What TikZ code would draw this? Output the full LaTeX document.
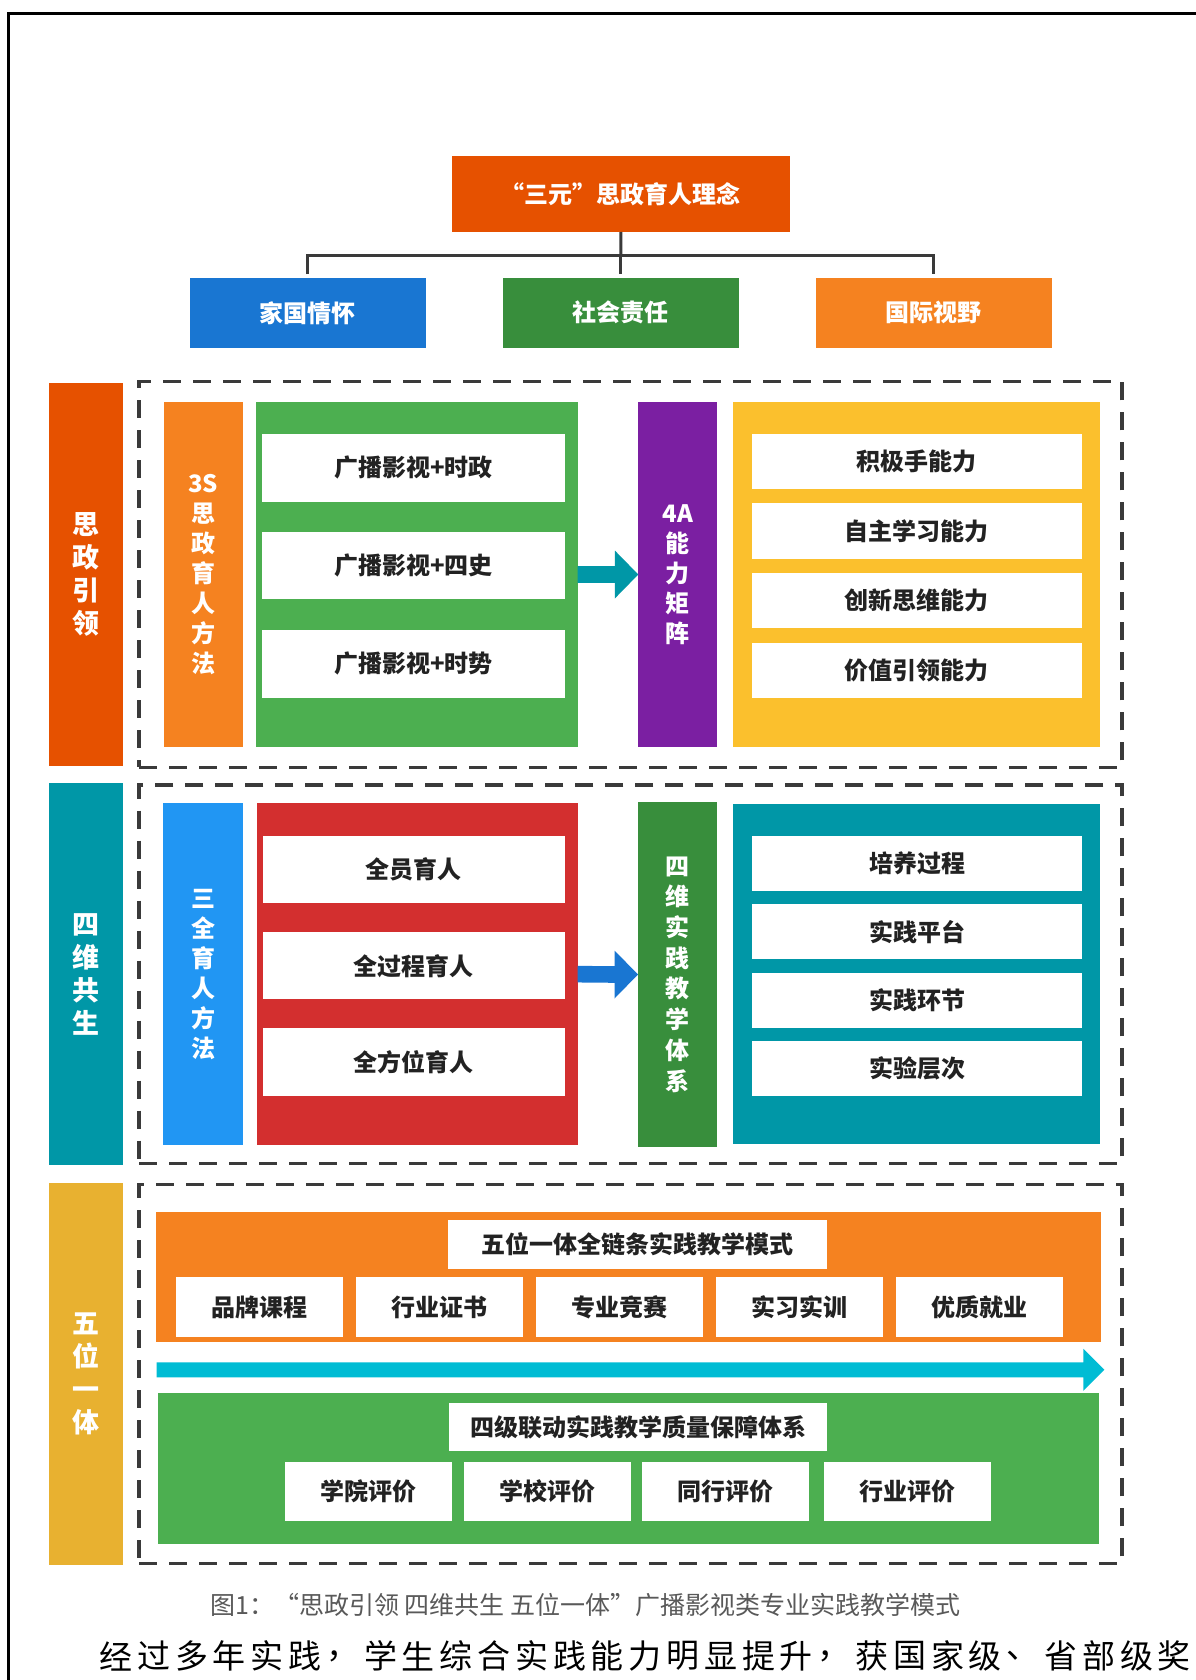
\documentclass[tikz,border=0pt]{standalone}
\usepackage{fontspec}
\setmainfont{Noto Sans CJK SC}
\usetikzlibrary{fit,calc}
\definecolor{cTop}{HTML}{E65100}
\definecolor{cBlue}{HTML}{1976D2}
\definecolor{cDGreen}{HTML}{388E3C}
\definecolor{cOrange}{HTML}{F58220}
\definecolor{cGreen}{HTML}{4CAF50}
\definecolor{cTeal}{HTML}{0097A7}
\definecolor{cPurple}{HTML}{7B1FA2}
\definecolor{cYellow}{HTML}{FBC02D}
\definecolor{cLBlue}{HTML}{2196F3}
\definecolor{cRed}{HTML}{D32F2F}
\definecolor{cGold}{HTML}{E8B130}
\definecolor{cCyan}{HTML}{00BCD4}
\definecolor{cLine}{HTML}{3A3A3A}
\definecolor{cTxt}{HTML}{222222}
\begin{document}
\begin{tikzpicture}[x=0.5pt,y=-0.5pt,
  fbox/.style={inner sep=0pt, outer sep=0pt, draw=none},
  wtxt/.style={text=white, font=\bfseries\fontsize{12}{15}\selectfont, align=center, inner sep=0pt},
  btxt/.style={text=cTxt, font=\bfseries\fontsize{12}{15}\selectfont, inner sep=0pt},
  stxt/.style={text=white, font=\bfseries\fontsize{13.5}{16.5}\selectfont, align=center, inner sep=0pt},
  wlab/.style={label={[wtxt]center:#1}},
  blab/.style={fill=white, label={[btxt]center:#1}},
  side/.style={label={[stxt]center:#1}},
  dashbox/.style={draw=cLine, line width=1.75pt, dash pattern=on 9pt off 6pt, inner sep=0pt, outer sep=0pt},
  conn/.style={draw=cLine, line width=1.5pt},
]
\useasboundingbox (0,0) rectangle (1195,1680);
\fill[white] (0,0) rectangle (1195,1680);
% outer frame
\draw[line width=1.5pt, black] (8,1690) -- (8,14) -- (1200,14);

% top
\node[fbox, fill=cTop, wlab={“三元”思政育人理念}, fit={(451.5,156) (790,232)}] (san) {};
\node[fbox, fill=cBlue, wlab={家国情怀}, fit={(190,278) (425.7,347.7)}] (jg) {};
\node[fbox, fill=cDGreen, wlab={社会责任}, fit={(503,278) (738.6,347.7)}] (sh) {};
\node[fbox, fill=cOrange, wlab={国际视野}, fit={(816,278) (1051.7,347.7)}] (gj) {};
\coordinate (hub) at (620.8,256);
\draw[conn] (san.south) -- (hub);
\draw[conn] (jg.north) ++(0,-4) |- (hub) -| ($(gj.north)+(0,-4)$);
\draw[conn] (hub) -- ($(sh.north)+(0,-4)$);

% dashed frames
\node[dashbox, fit={(139,381.7) (1122,767.3)}] (f1) {};
\node[dashbox, fit={(139,785) (1122,1163.3)}] (f2) {};
\node[dashbox, fit={(139,1184.7) (1122,1563.3)}] (f3) {};

% side bars
\node[fbox, fill=cTop, side={思\\政\\引\\领}, fit={(49.3,383.3) (122.7,765.7)}] (b1) {};
\node[fbox, fill=cTeal, side={四\\维\\共\\生}, fit={(49.3,783.3) (122.7,1165)}] (b2) {};
\node[fbox, fill=cGold, side={五\\位\\一\\体}, fit={(49.3,1182.7) (122.7,1565)}] (b3) {};

% row 1
\node[fbox, fill=cOrange, wlab={3S\\思\\政\\育\\人\\方\\法}, fit={(164,401.7) (242.7,747.3)}] (s3) {};
\node[fbox, fill=cGreen, fit={(255.7,401.7) (577.7,747.3)}] (g1) {};
\node[fbox, blab={广播影视+时政}, fit={(262.3,434) (565,501.7)}] (w11) {};
\node[fbox, blab={广播影视+四史}, fit={(262.3,532.3) (565,599.3)}] (w12) {};
\node[fbox, blab={广播影视+时势}, fit={(262.3,630) (565,697.7)}] (w13) {};
\node[fbox, fill=cPurple, wlab={4A\\能\\力\\矩\\阵}, fit={(638.3,401.7) (717.3,747.3)}] (pur) {};
\node[fbox, fill=cYellow, fit={(732.7,401.7) (1100,747.3)}] (yel) {};
\node[fbox, blab={积极手能力}, fit={(751.7,434) (1082,489.3)}] (y1) {};
\node[fbox, blab={自主学习能力}, fit={(751.7,503.3) (1082,559)}] (y2) {};
\node[fbox, blab={创新思维能力}, fit={(751.7,573.3) (1082,628.3)}] (y3) {};
\node[fbox, blab={价值引领能力}, fit={(751.7,642.7) (1082,697.7)}] (y4) {};
\fill[cTeal] ($(g1.east)+(0,-8.3)$) -- ($(pur.west)+(-23.5,-8.3)$) -- ($(pur.west)+(-23.5,-24)$) -- (pur.west)
  -- ($(pur.west)+(-23.5,24)$) -- ($(pur.west)+(-23.5,8.3)$) -- ($(g1.east)+(0,8.3)$) -- cycle;

% row 2
\node[fbox, fill=cLBlue, wlab={三\\全\\育\\人\\方\\法}, fit={(163.3,803.3) (243.3,1145)}] (sq) {};
\node[fbox, fill=cRed, fit={(256.7,803.3) (577.7,1145)}] (rd) {};
\node[fbox, blab={全员育人}, fit={(262.7,835.7) (565,903.3)}] (r1) {};
\node[fbox, blab={全过程育人}, fit={(262.7,932.3) (565,999.3)}] (r2) {};
\node[fbox, blab={全方位育人}, fit={(262.7,1028.3) (565,1096)}] (r3) {};
\node[fbox, fill=cDGreen, label={[wtxt, font=\bfseries\fontsize{12}{15.35}\selectfont]center:四\\维\\实\\践\\教\\学\\体\\系}, fit={(638,801.7) (717.3,1147.3)}] (sw) {};
\node[fbox, fill=cTeal, fit={(733.3,804) (1100,1144.3)}] (tl) {};
\node[fbox, blab={培养过程}, fit={(751.7,836) (1082.3,890.7)}] (t1) {};
\node[fbox, blab={实践平台}, fit={(751.7,904.3) (1082.3,959)}] (t2) {};
\node[fbox, blab={实践环节}, fit={(751.7,972.7) (1082.3,1027.7)}] (t3) {};
\node[fbox, blab={实验层次}, fit={(751.7,1041) (1082.3,1096)}] (t4) {};
\fill[cBlue] ($(rd.east)+(0,-8.3)$) -- ($(sw.west)+(-23.5,-8.3)$) -- ($(sw.west)+(-23.5,-24)$) -- (sw.west)
  -- ($(sw.west)+(-23.5,24)$) -- ($(sw.west)+(-23.5,8.3)$) -- ($(rd.east)+(0,8.3)$) -- cycle;

% row 3
\node[fbox, fill=cOrange, fit={(155.7,1212.3) (1101,1342.3)}] (org) {};
\node[fbox, blab={五位一体全链条实践教学模式}, fit={(448,1220) (827,1269)}] (ot) {};
\node[fbox, blab={品牌课程}, fit={(176,1277.3) (343,1336.7)}] (p1) {};
\node[fbox, blab={行业证书}, fit={(356,1277.3) (523,1336.7)}] (p2) {};
\node[fbox, blab={专业竞赛}, fit={(536,1277.3) (703,1336.7)}] (p3) {};
\node[fbox, blab={实习实训}, fit={(716,1277.3) (883,1336.7)}] (p4) {};
\node[fbox, blab={优质就业}, fit={(896,1277.3) (1063,1336.7)}] (p5) {};
\coordinate (ca) at (156.7,1369.8);
\coordinate (cb) at (1104.3,1369.8);
\fill[cCyan] ($(ca)+(0,-7.5)$) -- ($(cb)+(-21,-7.5)$) -- ($(cb)+(-21,-21)$) -- (cb)
  -- ($(cb)+(-21,21)$) -- ($(cb)+(-21,7.5)$) -- ($(ca)+(0,7.5)$) -- cycle;
\node[fbox, fill=cGreen, fit={(157.7,1393.3) (1099,1544)}] (grn) {};
\node[fbox, blab={四级联动实践教学质量保障体系}, fit={(449,1403) (827,1451)}] (gt) {};
\node[fbox, blab={学院评价}, fit={(285,1461.7) (452,1521)}] (e1) {};
\node[fbox, blab={学校评价}, fit={(464,1461.7) (631,1521)}] (e2) {};
\node[fbox, blab={同行评价}, fit={(642,1461.7) (809,1521)}] (e3) {};
\node[fbox, blab={行业评价}, fit={(824,1461.7) (991,1521)}] (e4) {};

% caption
\node[text=black!65, font=\fontsize{12.5}{13}\selectfont] (cap) at (585.5,1605) {图1：“思政引领 四维共生 五位一体”广播影视类专业实践教学模式};
% body text line
\foreach \c [count=\i] in {经,过,多,年,实,践,，,学,生,综,合,实,践,能,力,明,显,提,升,，,获,国,家,级,、,省,部,级,奖}
  \node[text=black, font=\fontsize{16.5}{17}\selectfont, inner sep=0pt] (bt\i) at ({116+37.8*(\i-1)},1656) {\c};
\end{tikzpicture}
\end{document}
